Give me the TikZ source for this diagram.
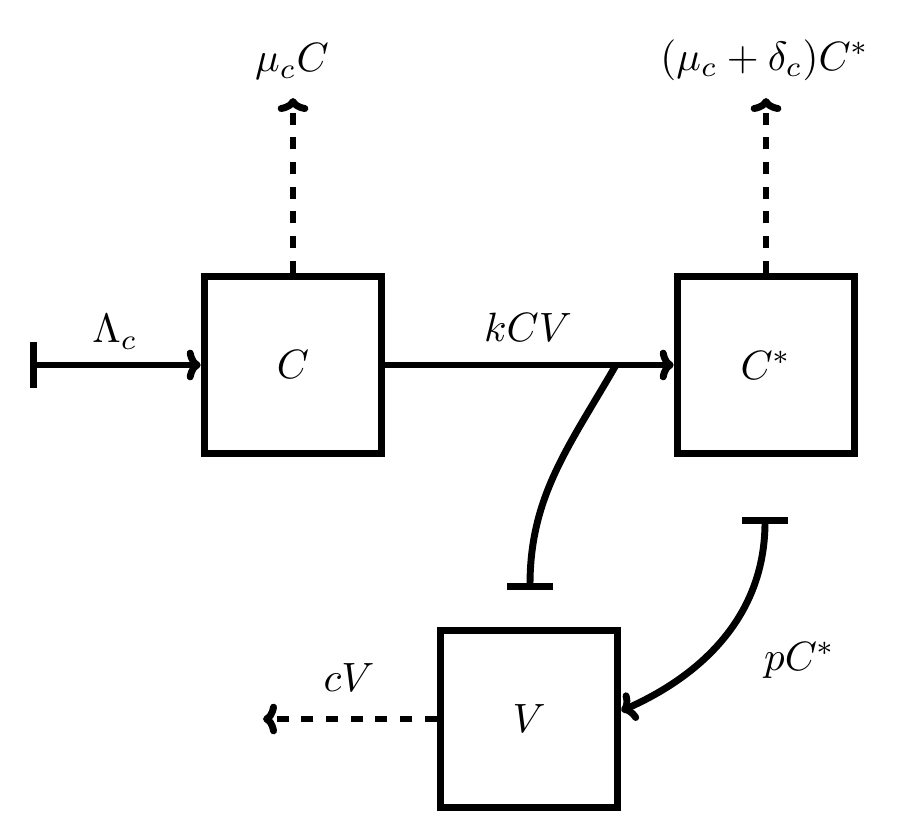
\documentclass[tikz,border=0pt]{standalone}
\usepackage{graphicx}
\usetikzlibrary{arrows.meta}
\newcommand{\mylbl}[1]{\scalebox{3.07}{$#1$}}
\begin{document}
\begin{tikzpicture}[x=0.75pt,y=0.75pt,
  >={To[length=10.5pt,width=23pt]},
  box/.style={draw,line width=5.4pt,minimum width=133pt,minimum height=133pt,inner sep=0pt},
  flow/.style={line width=5.2pt,->},
  loss/.style={line width=5.2pt,->,dash pattern=on 9pt off 9.5pt},
  inh/.style={line width=5.2pt},
  lbl/.style={inner sep=0pt}]
\useasboundingbox (0,0) rectangle (909,835);
\node[box] (C) at (293,470) {\mylbl{C}};
\node[box] (Cs) at (766,470) {\mylbl{C^*}};
\node[box] (V) at (529,116) {\mylbl{V}};
\coordinate (src) at (30,470);
\coordinate (muC) at (293,737);
\coordinate (muCs) at (766,737);
\coordinate (cVt) at (263,116);
\coordinate (j) at (616,470);
\coordinate (b1) at (530,245);
\coordinate (b2) at (765,318);
\draw[flow,{Bar[width=34pt]}->] (src) -- (C.west);
\draw[flow] (C.east) -- (Cs.west);
\draw[loss] (C.north) -- (muC);
\draw[loss] (Cs.north) -- (muCs);
\draw[loss] (V.west) -- (cVt);
\draw[inh,-{Bar[width=34pt]}] (j) to[out=240,in=90] (b1);
\draw[inh,{Bar[width=34pt]}->] (b2) to[out=-90,in=24] (V.5);
\node[lbl] (l1) at (115,503) {\mylbl{\Lambda_c}};
\node[lbl] (l2) at (528,508) {\mylbl{kCV}};
\node[lbl] (l3) at (292,773) {\mylbl{\mu_c C}};
\node[lbl] (l4) at (765,775) {\mylbl{(\mu_c+\delta_c)C^*}};
\node[lbl] (l5) at (800,175) {\mylbl{pC^*}};
\node[lbl] (l6) at (349,157) {\mylbl{cV}};
\end{tikzpicture}
\end{document}
